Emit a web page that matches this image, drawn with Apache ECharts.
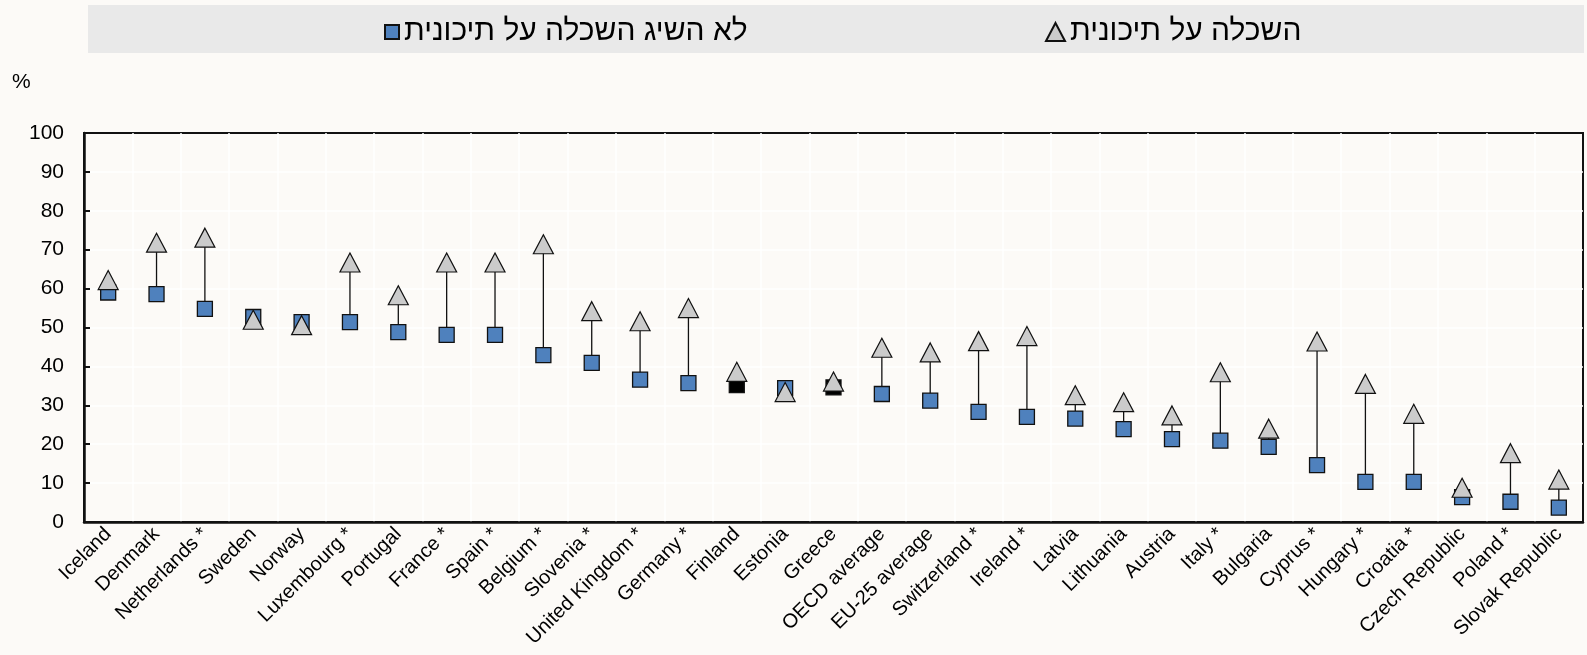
<!DOCTYPE html>
<html>
<head>
<meta charset="utf-8">
<script src="https://cdn.jsdelivr.net/npm/echarts@6/dist/echarts.min.js"></script>
<style>
  html, body { margin: 0; padding: 0; background: #fcfaf7; }
  #chart { width: 1587px; height: 655px; }
</style>
</head>
<body>
<div id="chart"></div>
<script>
// categories, left to right
const countries = ['Iceland', 'Denmark', 'Netherlands *', 'Sweden', 'Norway', 'Luxembourg *', 'Portugal', 'France *', 'Spain *', 'Belgium *',
  'Slovenia *', 'United Kingdom *', 'Germany *', 'Finland', 'Estonia', 'Greece', 'OECD average', 'EU-25 average', 'Switzerland *', 'Ireland *',
  'Latvia', 'Lithuania', 'Austria', 'Italy *', 'Bulgaria', 'Cyprus *', 'Hungary *', 'Croatia *', 'Czech Republic', 'Poland *', 'Slovak Republic'];

// below upper secondary (squares)
const belowTertiary = [59.0, 58.6, 54.8, 52.7, 51.4, 51.4, 48.8, 48.1, 48.1, 42.9,
  40.9, 36.6, 35.7, 35.2, 34.4, 34.6, 32.9, 31.2, 28.3, 27.0,
  26.6, 23.9, 21.3, 20.9, 19.3, 14.6, 10.3, 10.3, 6.4, 5.2, 3.7];

// tertiary (triangles)
const tertiary = [62.2, 71.8, 73.1, 52.0, 50.6, 66.7, 58.3, 66.7, 66.7, 71.4,
  54.2, 51.6, 55.0, 38.6, 33.4, 36.1, 44.8, 43.6, 46.5, 47.8,
  32.6, 30.8, 27.4, 38.5, 24.0, 46.4, 35.5, 27.8, 8.8, 17.7, 10.9];

const blackSquares = ['Finland', 'Greece'];

const yTicks = [0, 10, 20, 30, 40, 50, 60, 70, 80, 90, 100];

const nameBelow = 'לא השיג השכלה על תיכונית';
const nameTertiary = 'השכלה על תיכונית';

const FONT = "'Liberation Sans Narrow', 'Arial Narrow', 'Liberation Sans', Arial, sans-serif";

const chart = echarts.init(document.getElementById('chart'));

const squareData = belowTertiary.map((v, i) => {
  if (blackSquares.includes(countries[i])) {
    return { value: v, itemStyle: { color: '#000000' } };
  }
  return v;
});

const rangeData = countries.map((c, i) => [i, belowTertiary[i], tertiary[i]]);

const option = {
  backgroundColor: '#fcfaf7',
  animation: false,
  textStyle: { fontFamily: FONT },
  graphic: [
    {
      type: 'rect',
      z: -1,
      shape: { x: 88, y: 5, width: 1496, height: 48 },
      style: { fill: '#e9e9e9' }
    },
    {
      type: 'text',
      left: 12,
      top: 72,
      style: { text: '%', fontSize: 21, fontFamily: FONT, fill: '#000' }
    }
  ],
  legend: [
    {
      data: [nameBelow],
      left: 379,
      top: 12,
      itemWidth: 14,
      itemHeight: 14,
      itemGap: 4,
      textStyle: { fontSize: 30, color: '#000', fontFamily: FONT }
    },
    {
      data: [nameTertiary],
      left: 1040,
      top: 12,
      itemWidth: 19,
      itemHeight: 18,
      itemGap: 4,
      textStyle: { fontSize: 30, color: '#000', fontFamily: FONT }
    }
  ],
  grid: {
    left: 84,
    right: 4,
    top: 133,
    bottom: 133,
    show: true,
    borderColor: '#111',
    borderWidth: 2,
    backgroundColor: 'transparent'
  },
  xAxis: {
    type: 'category',
    data: countries,
    boundaryGap: true,
    axisLine: { lineStyle: { color: '#111', width: 2.5 } },
    axisTick: { inside: true, length: 6, lineStyle: { color: '#111', width: 2 } },
    axisLabel: {
      rotate: 45,
      fontSize: 20,
      color: '#000',
      margin: 9,
      interval: 0,
      fontFamily: FONT
    },
    splitLine: { show: true, showMinLine: false, showMaxLine: false, lineStyle: { color: '#ffffff', width: 1.5 } }
  },
  yAxis: {
    type: 'value',
    min: yTicks[0],
    max: yTicks[yTicks.length - 1],
    interval: 10,
    axisLine: { show: true, lineStyle: { color: '#111', width: 2.5 } },
    axisTick: { show: true, inside: true, length: 6, lineStyle: { color: '#111', width: 2 } },
    axisLabel: { fontSize: 21, color: '#000', margin: 20, fontFamily: FONT },
    splitLine: { show: true, showMinLine: false, showMaxLine: false, lineStyle: { color: '#ffffff', width: 1.5 } }
  },
  series: [
    {
      type: 'custom',
      name: 'range',
      z: 1,
      silent: true,
      data: rangeData,
      encode: { x: 0, y: [1, 2] },
      renderItem: function (params, api) {
        const p1 = api.coord([api.value(0), api.value(1)]);
        const p2 = api.coord([api.value(0), api.value(2)]);
        return {
          type: 'line',
          shape: { x1: p1[0], y1: p1[1], x2: p2[0], y2: p2[1] },
          style: { stroke: '#111', lineWidth: 1.3 }
        };
      }
    },
    {
      type: 'scatter',
      name: nameBelow,
      z: 2,
      symbol: 'rect',
      symbolSize: 15,
      data: squareData,
      itemStyle: { color: '#4f81bd', borderColor: '#111', borderWidth: 1.3, opacity: 1 }
    },
    {
      type: 'scatter',
      name: nameTertiary,
      z: 3,
      symbol: 'triangle',
      symbolSize: [20, 19],
      data: tertiary,
      itemStyle: { color: '#cbcbcb', borderColor: '#111', borderWidth: 1.2, opacity: 1 }
    }
  ]
};

chart.setOption(option);
</script>
</body>
</html>
